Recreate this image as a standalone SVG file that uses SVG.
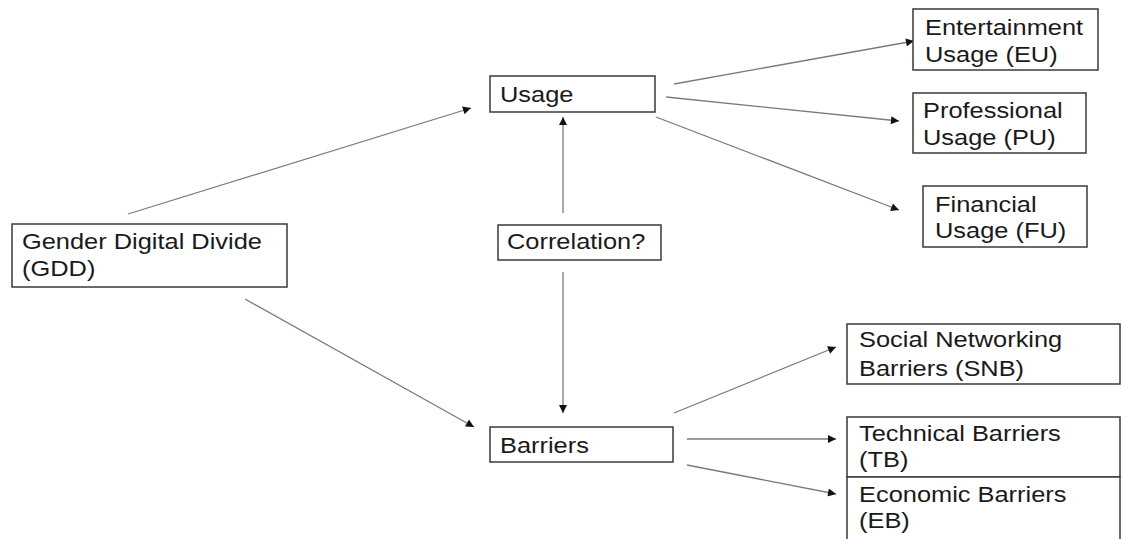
<svg xmlns="http://www.w3.org/2000/svg" width="1122" height="539" viewBox="0 0 1122 539">
<style>
.box{fill:#fff;stroke:#3a3a3a;stroke-width:1.5}
.lbl{font-family:"Liberation Sans",Arial,sans-serif;font-size:22px;fill:#1a1a1a}
.edge{stroke:#7a7a7a;stroke-width:1.3;fill:none;marker-end:url(#arr)}
</style>
<defs>
<marker id="arr" viewBox="0 0 10 10" refX="10" refY="5" markerWidth="10" markerHeight="8" markerUnits="userSpaceOnUse" orient="auto">
<path d="M0,0 L10,5 L0,10 z" fill="#111"/>
</marker>
</defs>
<rect width="1122" height="539" fill="#fff"/>
<g id="connectors">
<line class="edge" x1="128" y1="214" x2="471" y2="108"/>
<line class="edge" x1="245" y1="299" x2="474" y2="427"/>
<line class="edge" x1="563" y1="213" x2="563" y2="117"/>
<line class="edge" x1="563" y1="272" x2="563" y2="413"/>
<line class="edge" x1="674" y1="84" x2="914" y2="41"/>
<line class="edge" x1="666" y1="97" x2="899" y2="121"/>
<line class="edge" x1="656" y1="117" x2="899" y2="210"/>
<line class="edge" x1="674" y1="413" x2="836" y2="347"/>
<line class="edge" x1="687" y1="439" x2="836" y2="439"/>
<line class="edge" x1="687" y1="465" x2="836" y2="494"/>
</g>
<g id="gdd">
<rect class="box" x="12" y="224" width="275" height="63"/>
<text class="lbl" transform="translate(22 249) scale(1.155 1)">Gender Digital Divide<tspan x="0" dy="27">(GDD)</tspan></text>
</g>
<g id="usage">
<rect class="box" x="490" y="76" width="165" height="36"/>
<text class="lbl" transform="translate(500 102) scale(1.155 1)">Usage</text>
</g>
<g id="correlation">
<rect class="box" x="498" y="225" width="163" height="35"/>
<text class="lbl" transform="translate(507 249) scale(1.155 1)">Correlation?</text>
</g>
<g id="barriers">
<rect class="box" x="490" y="427" width="183" height="35"/>
<text class="lbl" transform="translate(500 453) scale(1.155 1)">Barriers</text>
</g>
<g id="eu">
<rect class="box" x="913" y="9" width="185" height="61"/>
<text class="lbl" transform="translate(925 35) scale(1.155 1)">Entertainment<tspan x="0" dy="27">Usage (EU)</tspan></text>
</g>
<g id="pu">
<rect class="box" x="913" y="93" width="173" height="60"/>
<text class="lbl" transform="translate(923 118) scale(1.155 1)">Professional<tspan x="0" dy="27">Usage (PU)</tspan></text>
</g>
<g id="fu">
<rect class="box" x="923" y="186" width="164" height="61"/>
<text class="lbl" transform="translate(935 212) scale(1.155 1)">Financial<tspan x="0" dy="26">Usage (FU)</tspan></text>
</g>
<g id="snb">
<rect class="box" x="847" y="324" width="273" height="60"/>
<text class="lbl" transform="translate(859 347) scale(1.155 1)">Social Networking<tspan x="0" dy="29">Barriers (SNB)</tspan></text>
</g>
<g id="tb">
<rect class="box" x="847" y="417" width="273" height="60"/>
<text class="lbl" transform="translate(859 441) scale(1.155 1)">Technical Barriers<tspan x="0" dy="26">(TB)</tspan></text>
</g>
<g id="eb">
<rect class="box" x="847" y="477" width="273" height="70"/>
<text class="lbl" transform="translate(859 502) scale(1.155 1)">Economic Barriers<tspan x="0" dy="26">(EB)</tspan></text>
</g>
</svg>
